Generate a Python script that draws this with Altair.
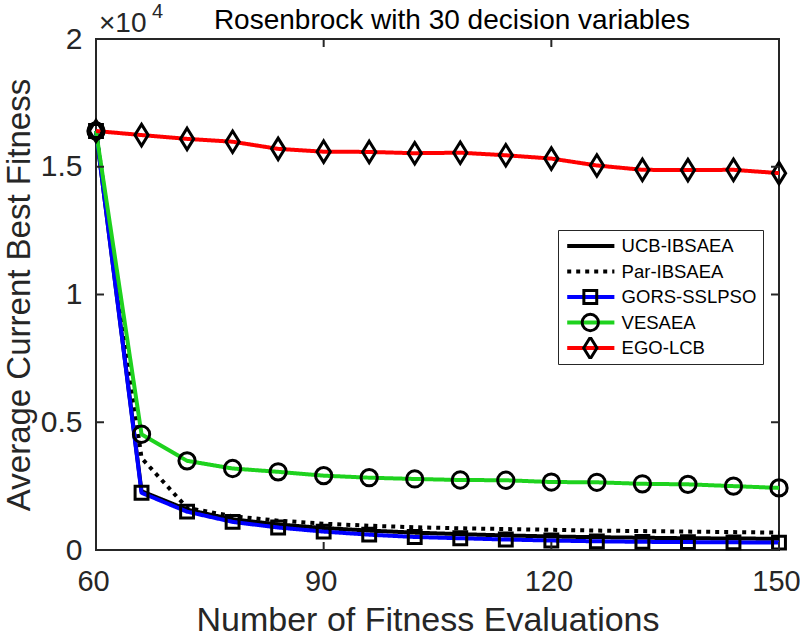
import altair as alt
import pandas as pd

# Convergence histories: average best fitness after each batch of evaluations
evals = [60, 66, 72, 78, 84, 90, 96, 102, 108, 114, 120, 126, 132, 138, 144, 150]
ucb_ibsaea = [16400, 2300, 1580, 1200, 1000, 860, 760, 680, 620, 570, 530, 500, 480, 460, 450, 440]
par_ibsaea = [16400, 3600, 1650, 1320, 1150, 1030, 950, 890, 850, 820, 790, 760, 740, 720, 700, 680]
gors_sslpso = [16400, 2240, 1500, 1100, 880, 720, 600, 510, 460, 410, 370, 340, 320, 310, 300, 290]
vesaea = [16400, 4530, 3490, 3190, 3060, 2910, 2830, 2780, 2740, 2730, 2660, 2650, 2590, 2570, 2500, 2430]
ego_lcb = [16400, 16240, 16090, 15980, 15700, 15590, 15580, 15530, 15550, 15450, 15320, 15050, 14880, 14870, 14880, 14750]

series_names = ["UCB-IBSAEA", "Par-IBSAEA", "GORS-SSLPSO", "VESAEA", "EGO-LCB"]
series_values = [ucb_ibsaea, par_ibsaea, gors_sslpso, vesaea, ego_lcb]
line_colors = ["#000000", "#000000", "#0000FF", "#1ED21E", "#FF0000"]
line_dashes = [[1, 0], [4, 5], [1, 0], [1, 0], [1, 0]]

# Marker outlines as unit paths (all drawn at one symbol size)
no_marker = "M-0.001,0H0.001"
square = "M-0.6,-0.6H0.6V0.6H-0.6Z"
circle = "M-0.76,0A0.76,0.76 0 1,0 0.76,0A0.76,0.76 0 1,0 -0.76,0Z"
diamond = "M0,-1L0.62,0L0,1L-0.62,0Z"
marker_shapes = [no_marker, no_marker, square, circle, diamond]
MARKER_SIZE = 460

# Marker keys carry a trailing space so the marker legend stays separate
# from the line legend (same visible labels, distinct scale domains).
marker_keys = [n + " " for n in series_names]
marked_keys = marker_keys[2:]

x_ticks = [60, 90, 120, 150]
y_ticks = [0, 5000, 10000, 15000, 20000]

title_text = "Rosenbrock with 30 decision variables"
x_title = "Number of Fitness Evaluations"
y_title = "Average Current Best Fitness"

W, H = 683, 511
FONT = "Liberation Sans"
INK = "#262626"

rows = []
for name, key, vals in zip(series_names, marker_keys, series_values):
    for e, v in zip(evals, vals):
        rows.append({"evals": e, "fitness": v, "series": name, "marker": key})
df = pd.DataFrame(rows)

xs = alt.Scale(domain=[60, 150], nice=False, zero=False)
ys = alt.Scale(domain=[0, 20000], nice=False)

x_axis = alt.Axis(
    values=x_ticks, ticks=False, domain=False, grid=False, labelFlush=False,
    labelFont=FONT, labelFontSize=29, labelColor=INK, labelPadding=17, labelOffset=-3,
    titleFont=FONT, titleFontSize=34, titleFontWeight="normal", titleColor=INK,
    titleX=W / 2 - 10, titleY=80, titleBaseline="alphabetic",
)
y_axis = alt.Axis(
    values=y_ticks, ticks=False, domain=False, grid=False, labelFlush=False,
    labelExpr="datum.value / 10000",
    labelFont=FONT, labelFontSize=30, labelColor=INK, labelPadding=14,
    titleFont=FONT, titleFontSize=33, titleFontWeight="normal", titleColor=INK,
    titleX=-67, titleY=H / 2, titleBaseline="alphabetic",
)

ROW_CLIP = 22
ROW_PAD = 3.5

# Line legend: the box and the coloured/dashed swatches (no labels of its own)
line_legend = alt.Legend(
    orient="none", legendX=462, legendY=191, title=None,
    symbolType="M-2.2,0H2.2", symbolSize=MARKER_SIZE, symbolStrokeWidth=4,
    symbolOffset=14.8,
    labelExpr="''", labelFont=FONT, labelFontSize=18.5, labelOffset=154,
    padding=5, strokeColor=INK, fillColor="white", cornerRadius=0,
    clipHeight=ROW_CLIP, rowPadding=ROW_PAD,
)
# Marker legend laid over the swatches, carrying the visible labels
marker_legend = alt.Legend(
    orient="none", legendX=481.8, legendY=196, title=None,
    symbolSize=MARKER_SIZE,
    symbolStrokeColor="#000000", symbolFillColor="transparent", symbolStrokeWidth=3,
    symbolOpacity=1,
    labelFont=FONT, labelFontSize=18.5, labelColor="#000000", labelOffset=18.8,
    padding=0, clipHeight=ROW_CLIP, rowPadding=ROW_PAD,
)

lines = alt.Chart(df).mark_line(strokeWidth=4, strokeJoin="round").encode(
    x=alt.X("evals:Q", scale=xs, axis=x_axis, title=x_title),
    y=alt.Y("fitness:Q", scale=ys, axis=y_axis, title=y_title),
    color=alt.Color("series:N", scale=alt.Scale(domain=series_names, range=line_colors), legend=line_legend),
    strokeDash=alt.StrokeDash("series:N", scale=alt.Scale(domain=series_names, range=line_dashes), legend=line_legend),
)

points = alt.Chart(df).transform_filter(
    alt.FieldOneOfPredicate(field="marker", oneOf=marked_keys)
).mark_point(filled=False, stroke="#000000", strokeWidth=3, opacity=1, size=MARKER_SIZE).encode(
    x=alt.X("evals:Q", scale=xs),
    y=alt.Y("fitness:Q", scale=ys),
    shape=alt.Shape("marker:N", scale=alt.Scale(domain=marker_keys, range=marker_shapes), legend=marker_legend),
)

# Inward tick marks on all four sides of the box
xt = pd.DataFrame({"t": x_ticks})
yt = pd.DataFrame({"t": y_ticks})
tick_style = dict(color=INK, strokeWidth=2)
ticks_bottom = alt.Chart(xt).mark_rule(**tick_style).encode(
    x=alt.X("t:Q", scale=xs), y=alt.value(H), y2=alt.value(H - 8))
ticks_top = alt.Chart(xt).mark_rule(**tick_style).encode(
    x=alt.X("t:Q", scale=xs), y=alt.value(0), y2=alt.value(8))
ticks_left = alt.Chart(yt).mark_rule(**tick_style).encode(
    y=alt.Y("t:Q", scale=ys), x=alt.value(0), x2=alt.value(8))
ticks_right = alt.Chart(yt).mark_rule(**tick_style).encode(
    y=alt.Y("t:Q", scale=ys), x=alt.value(W), x2=alt.value(W - 8))

title = alt.Chart(pd.DataFrame({"t": [title_text]})).mark_text(
    font=FONT, fontSize=28, color="#000000", align="center", baseline="alphabetic"
).encode(text="t:N", x=alt.value(356), y=alt.value(-10))

exp_base = alt.Chart(pd.DataFrame({"t": ["×10"]})).mark_text(
    font=FONT, fontSize=28, color=INK, align="left", baseline="alphabetic"
).encode(text="t:N", x=alt.value(3), y=alt.value(-7))
exp_power = alt.Chart(pd.DataFrame({"t": ["4"]})).mark_text(
    font=FONT, fontSize=20, color=INK, align="left", baseline="alphabetic"
).encode(text="t:N", x=alt.value(56), y=alt.value(-21))

chart = alt.layer(
    lines, points, ticks_bottom, ticks_top, ticks_left, ticks_right, title, exp_base, exp_power
).properties(
    width=W, height=H,
    padding={"left": 96, "top": 39, "right": 21, "bottom": 90},
    autosize=alt.AutoSizeParams(type="none"),
    background="white",
).configure_view(stroke=INK, strokeWidth=2)

chart.save("out.html", embed_options={"renderer": "svg", "actions": False})
